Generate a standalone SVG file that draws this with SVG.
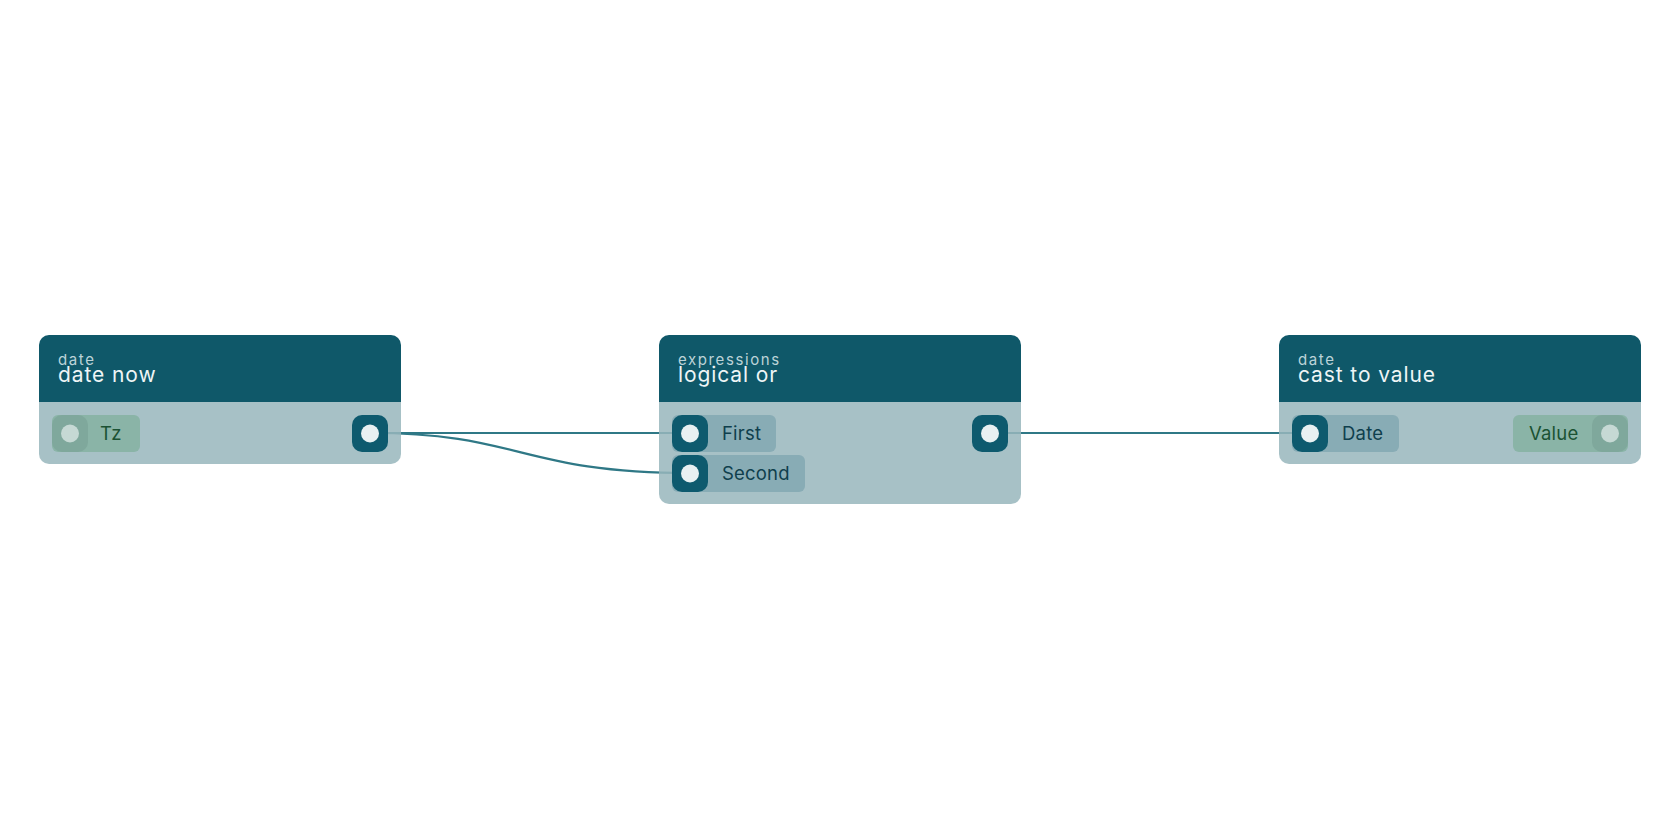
<svg xmlns="http://www.w3.org/2000/svg" width="1680" height="840" viewBox="0 0 1680 840">
<style>
.bg{fill:#ffffff}
.head{fill:#0f5869}
.body{fill:#98b6bc;fill-opacity:.85}
.cat{font-family:Inter,"Noto Sans",sans-serif;font-size:15px;letter-spacing:1.6px;fill:#bcd3d8}
.title{font-family:Inter,"Noto Sans",sans-serif;font-size:21px;letter-spacing:0.9px;fill:#eef5f6}
.lbl{font-family:Inter,"Noto Sans",sans-serif;font-size:18.5px;letter-spacing:0.2px}
.pillIn{fill:#88acb5}
.pillOff{fill:#8ab4a7}
.sqOff{fill:#7fa89c}
.dotOff{fill:#c6d9d4}
.portOn{fill:#0e5a6e}
.dotOn{fill:#e8f0f2}
.tIn{fill:#0f3f4d}
.tOff{fill:#1b5233}
.wire{fill:none;stroke:#2f7886;stroke-width:2.2}
</style>
<rect class="bg" width="1680" height="840"/>
<g id="connectors">
<path class="wire" d="M370 433 L690 433"/>
<path class="wire" d="M370 433 C521 433 521 473 690 473"/>
<path class="wire" d="M990 433 L1310 433"/>
</g>
<g id="node-date-now">
<path class="head" d="M39 345 a10 10 0 0 1 10 -10 h342 a10 10 0 0 1 10 10 v57 h-362 z"/>
<path class="body" d="M39 402 h362 v52 a10 10 0 0 1 -10 10 h-342 a10 10 0 0 1 -10 -10 z"/>
<text class="cat" x="58" y="365">date</text>
<text class="title" x="58" y="382">date now</text>
<rect class="pillOff" x="52" y="415" width="88" height="37" rx="6"/>
<rect class="sqOff" x="52" y="415" width="36" height="37" rx="10"/>
<circle class="dotOff" cx="70" cy="433.5" r="9"/>
<text class="lbl tOff" x="100" y="440">Tz</text>
<rect class="portOn" x="352" y="415" width="36" height="37" rx="10"/>
<circle class="dotOn" cx="370" cy="433.5" r="9"/>
</g>
<g id="node-logical-or">
<path class="head" d="M659 345 a10 10 0 0 1 10 -10 h342 a10 10 0 0 1 10 10 v57 h-362 z"/>
<path class="body" d="M659 402 h362 v92 a10 10 0 0 1 -10 10 h-342 a10 10 0 0 1 -10 -10 z"/>
<text class="cat" x="678" y="365">expressions</text>
<text class="title" x="678" y="382">logical or</text>
<rect class="pillIn" x="672" y="415" width="104" height="37" rx="6"/>
<rect class="portOn" x="672" y="415" width="36" height="37" rx="10"/>
<circle class="dotOn" cx="690" cy="433.5" r="9"/>
<text class="lbl tIn" x="722" y="440">First</text>
<rect class="pillIn" x="672" y="455" width="133" height="37" rx="6"/>
<rect class="portOn" x="672" y="455" width="36" height="37" rx="10"/>
<circle class="dotOn" cx="690" cy="473.5" r="9"/>
<text class="lbl tIn" x="722" y="480">Second</text>
<rect class="portOn" x="972" y="415" width="36" height="37" rx="10"/>
<circle class="dotOn" cx="990" cy="433.5" r="9"/>
</g>
<g id="node-cast-to-value">
<path class="head" d="M1279 345 a10 10 0 0 1 10 -10 h342 a10 10 0 0 1 10 10 v57 h-362 z"/>
<path class="body" d="M1279 402 h362 v52 a10 10 0 0 1 -10 10 h-342 a10 10 0 0 1 -10 -10 z"/>
<text class="cat" x="1298" y="365">date</text>
<text class="title" x="1298" y="382">cast to value</text>
<rect class="pillIn" x="1292" y="415" width="107" height="37" rx="6"/>
<rect class="portOn" x="1292" y="415" width="36" height="37" rx="10"/>
<circle class="dotOn" cx="1310" cy="433.5" r="9"/>
<text class="lbl tIn" x="1342" y="440">Date</text>
<rect class="pillOff" x="1513" y="415" width="115" height="37" rx="6"/>
<rect class="sqOff" x="1592" y="415" width="36" height="37" rx="10"/>
<circle class="dotOff" cx="1610" cy="433.5" r="9"/>
<text class="lbl tOff" x="1529" y="440">Value</text>
</g>
</svg>
